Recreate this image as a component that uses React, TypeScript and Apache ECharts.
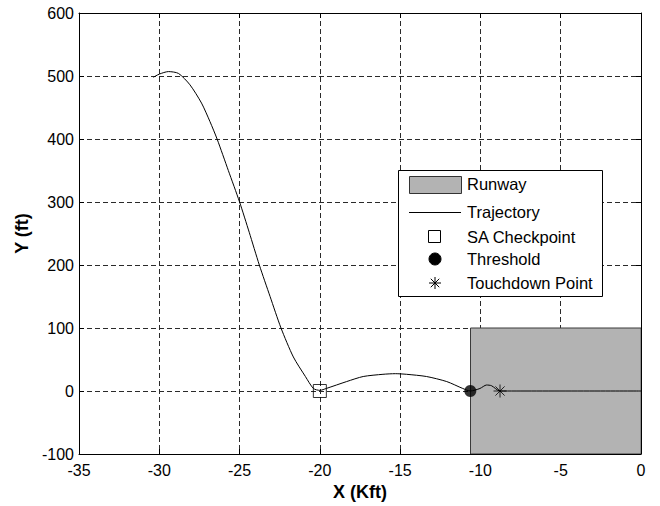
import React, { useEffect, useRef } from "react";
import * as echarts from "echarts";

// Axis ranges / ticks
const xRange = [-35, 0];
const xStep = 5;
const yRange = [-100, 600];
const yStep = 100;

// Trajectory (X in Kft, Y in ft)
const trajX = [
  -30.37, -30.0, -29.43, -28.8, -28.09, -27.37, -26.85, -26.4, -25.7, -25.0,
  -24.4, -23.77, -23.1, -22.42, -21.65, -20.9, -20.4, -20.0, -19.6, -18.33,
  -17.3, -16.07, -15.3, -14.6, -13.36, -12.1, -11.1, -10.63, -10.03, -9.62,
  -9.31, -8.78, 0,
];
const trajY = [
  498, 503, 507, 504, 486, 457, 428, 400, 350, 300,
  252, 200, 150, 100, 54, 23, 4, 1, 4, 15,
  23, 26.5, 27.5, 26.5, 23, 15, 4, 0, 4, 9.5,
  8.4, 0, 0,
];

// Runway rectangle [xStart, xEnd], [yBottom, yTop]
const runwayX = [-10.63, 0];
const runwayY = [-100, 100];

// Markers
const saCheckpoint = [-20, 0];
const threshold = [-10.63, 0];
const touchdown = [-8.78, 0];

const legendNames = ["Runway", "Trajectory", "SA Checkpoint", "Threshold", "Touchdown Point"];

const FONT = "'Liberation Sans', Arial, Helvetica, sans-serif";
const starPath =
  "path://M0,6L12,6M6,0L6,12M1.76,1.76L10.24,10.24M10.24,1.76L1.76,10.24";

echarts.graphic.registerShape(
  "legendStar",
  echarts.graphic.extendPath(
    "M0,6L12,6M6,0L6,12M1.76,1.76L10.24,10.24M10.24,1.76L1.76,10.24",
    {}
  )
);

export default function App() {
  const ref = useRef<HTMLDivElement>(null);

  useEffect(() => {
    if (!ref.current) return;
    const chart = echarts.init(ref.current, null, { renderer: "svg" });

    const splitLine = {
      show: true,
      lineStyle: { color: "#2a2a2a", width: 1, type: [5, 3] as any },
    };
    const axisLine = { show: true, onZero: false, lineStyle: { color: "#000", width: 1 } };
    const axisTick = { show: true, inside: true, length: 5, lineStyle: { color: "#000" } };
    const labelStyle = { color: "#000", fontSize: 16, fontFamily: FONT };

    const trajData = trajX.map((x, i) => [x, trajY[i]]);

    const lx = 398.5;
    const ly = 170.5;
    const iconCx = 435;
    const textX = 467;
    const rows = [184, 212, 237, 259, 283];

    const legendGraphics: any[] = [
      {
        type: "rect",
        shape: { x: lx, y: ly, width: 204, height: 126 },
        style: { fill: "#fff", stroke: "#000", lineWidth: 1 },
        z: 100,
      },
      {
        type: "rect",
        shape: { x: 409.5, y: 176.5, width: 52, height: 17 },
        style: { fill: "#b3b3b3", stroke: "#333", lineWidth: 1 },
        z: 101,
      },
      {
        type: "line",
        shape: { x1: 409, y1: rows[1] + 0.5, x2: 461, y2: rows[1] + 0.5 },
        style: { stroke: "#000", lineWidth: 1 },
        z: 101,
      },
      {
        type: "rect",
        shape: { x: iconCx - 6.5, y: rows[2] - 6.5, width: 12, height: 12 },
        style: { fill: "#fff", stroke: "#000", lineWidth: 1 },
        z: 101,
      },
      {
        type: "circle",
        shape: { cx: iconCx, cy: rows[3], r: 6 },
        style: { fill: "#000", stroke: "#000", lineWidth: 1 },
        z: 101,
      },
      {
        type: "legendStar",
        x: iconCx - 6,
        y: rows[4] - 6,
        style: { fill: "none", stroke: "#000", lineWidth: 1 },
        z: 101,
      },
      ...legendNames.map((name, i) => ({
        type: "text",
        x: textX,
        y: rows[i],
        style: {
          text: name,
          fill: "#000",
          font: `16.5px ${FONT}`,
          textVerticalAlign: "middle",
          verticalAlign: "middle",
        },
        z: 101,
      })),
    ];

    chart.setOption({
      animation: false,
      backgroundColor: "#fff",
      grid: { left: 79, right: 19, top: 13, bottom: 51, containLabel: false },
      xAxis: [
        {
          type: "value",
          min: xRange[0],
          max: xRange[1],
          interval: xStep,
          position: "bottom",
          name: "X (Kft)",
          nameLocation: "middle",
          nameGap: 29,
          nameTextStyle: { color: "#000", fontSize: 18, fontWeight: "bold", fontFamily: FONT },
          axisLine,
          axisTick,
          axisLabel: { ...labelStyle, margin: 8 },
          splitLine,
        },
        {
          type: "value",
          min: xRange[0],
          max: xRange[1],
          interval: xStep,
          position: "top",
          axisLine,
          axisTick,
          axisLabel: { show: false },
          splitLine: { show: false },
        },
      ],
      yAxis: [
        {
          type: "value",
          min: yRange[0],
          max: yRange[1],
          interval: yStep,
          position: "left",
          name: "Y (ft)",
          nameLocation: "middle",
          nameGap: 45,
          nameRotate: 90,
          nameTextStyle: { color: "#000", fontSize: 18, fontWeight: "bold", fontFamily: FONT },
          axisLine,
          axisTick,
          axisLabel: { ...labelStyle, margin: 5 },
          splitLine,
        },
        {
          type: "value",
          min: yRange[0],
          max: yRange[1],
          interval: yStep,
          position: "right",
          axisLine,
          axisTick,
          axisLabel: { show: false },
          splitLine: { show: false },
        },
      ],
      series: [
        {
          name: "Runway",
          type: "custom",
          clip: true,
          z: 3,
          data: [[runwayX[0], runwayY[0], runwayX[1], runwayY[1]]],
          renderItem: (params: any, api: any) => {
            const p0 = api.coord([api.value(0), api.value(3)]);
            const p1 = api.coord([api.value(2), api.value(1)]);
            return {
              type: "rect",
              shape: {
                x: Math.round(p0[0]) + 0.5,
                y: p0[1],
                width: p1[0] - p0[0],
                height: p1[1] - p0[1],
              },
              style: { fill: "#b3b3b3", stroke: "#3a3a3a", lineWidth: 1 },
            };
          },
        },
        {
          name: "Trajectory",
          type: "line",
          z: 4,
          data: trajData,
          showSymbol: false,
          symbol: "none",
          smooth: 0.25,
          lineStyle: { color: "#000", width: 1 },
        },
        {
          name: "SA Checkpoint",
          type: "scatter",
          z: 5,
          data: [saCheckpoint],
          symbol: "rect",
          symbolSize: 13,
          itemStyle: { color: "rgba(0,0,0,0)", borderColor: "#000", borderWidth: 1 },
        },
        {
          name: "Threshold",
          type: "scatter",
          z: 5,
          data: [threshold],
          symbol: "circle",
          symbolSize: 12,
          itemStyle: { color: "#000" },
        },
        {
          name: "Touchdown Point",
          type: "scatter",
          z: 5,
          data: [touchdown],
          symbol: starPath,
          symbolSize: 13,
          itemStyle: { color: "rgba(0,0,0,0)", borderColor: "#000", borderWidth: 1 },
        },
      ],
      graphic: legendGraphics,
    });

    return () => chart.dispose();
  }, []);

  return <div ref={ref} style={{ width: 660, height: 506, position: "absolute", left: 0, top: 0 }} />;
}
